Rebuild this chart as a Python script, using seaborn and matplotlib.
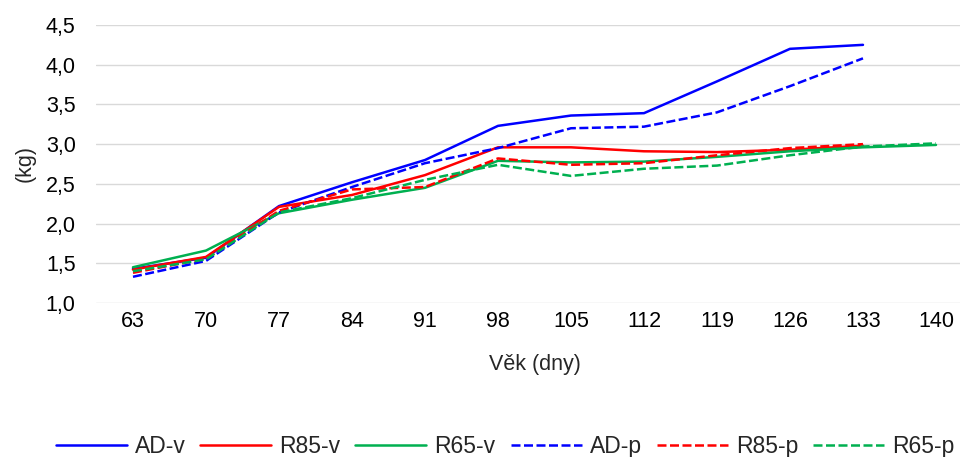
import numpy as np
import pandas as pd
import matplotlib
matplotlib.use("Agg")
import matplotlib.pyplot as plt
import matplotlib.ticker as mticker
import seaborn as sns

# chart data
days = [63, 70, 77, 84, 91, 98, 105, 112, 119, 126, 133, 140]
ad_v = [1.43, 1.57, 2.22, 2.52, 2.80, 3.23, 3.36, 3.39, 3.79, 4.20, 4.25, np.nan]
r85_v = [1.42, 1.58, 2.21, 2.36, 2.61, 2.96, 2.96, 2.91, 2.90, 2.93, 2.98, np.nan]
r65_v = [1.45, 1.66, 2.13, 2.30, 2.45, 2.79, 2.77, 2.78, 2.84, 2.91, 2.96, 2.99]
ad_p = [1.33, 1.53, 2.14, 2.46, 2.76, 2.95, 3.20, 3.22, 3.40, 3.73, 4.08, np.nan]
r85_p = [1.38, 1.56, 2.16, 2.43, 2.46, 2.82, 2.74, 2.76, 2.86, 2.95, 3.00, np.nan]
r65_p = [1.40, 1.55, 2.14, 2.32, 2.55, 2.74, 2.60, 2.69, 2.73, 2.86, 2.97, 3.01]

series_names = ["AD-v", "R85-v", "R65-v", "AD-p", "R85-p", "R65-p"]
series_vals = [ad_v, r85_v, r65_v, ad_p, r85_p, r65_p]
colors = ["#0000FF", "#FF0000", "#00B050", "#0000FF", "#FF0000", "#00B050"]

df = pd.concat(
    [pd.DataFrame({"day": days, "kg": v, "series": n}) for n, v in zip(series_names, series_vals)],
    ignore_index=True,
).dropna()

sns.set_theme(style="white")
plt.rcParams['font.family'] = ['Liberation Sans', 'DejaVu Sans']
FS = 15.5

fig = plt.figure(figsize=(9.6, 4.57), dpi=100)
ax = fig.add_axes([0.1005, 0.337, 0.9125, 0.6083])

dashes = {n: ("" if n.endswith("-v") else (3.6, 1.4)) for n in series_names}
sns.lineplot(data=df, x="day", y="kg", hue="series", style="series",
             hue_order=series_names, style_order=series_names,
             palette=colors, dashes=dashes, linewidth=1.8, ax=ax, legend="full")

ax.set_xlim(59.5, 143.5)
ax.set_ylim(1.0, 4.5)
ax.set_xticks(days)
ax.set_xticklabels([str(d) for d in days])
ax.yaxis.set_major_locator(mticker.MultipleLocator(0.5))
ax.yaxis.set_major_formatter(mticker.FuncFormatter(lambda v, p: f"{v:.1f}".replace(".", ",")))
ax.grid(axis="y", color="#D9D9D9", linewidth=1.0)
ax.set_axisbelow(True)
for s in ax.spines.values():
    s.set_visible(False)
ax.tick_params(axis="both", length=0, labelsize=FS, colors="#000000")
ax.tick_params(axis="y", pad=15)
ax.tick_params(axis="x", pad=6)

ax.set_xlabel("Věk (dny)", fontsize=FS)
ax.xaxis.set_label_coords(0.5, -0.185)
ax.set_ylabel("(kg)", fontsize=FS)
ax.yaxis.set_label_coords(-0.069, 0.5)

handles, labels = ax.get_legend_handles_labels()
ax.get_legend().remove()
fig.legend(handles, labels, loc="center", bbox_to_anchor=(0.526, 0.024), ncol=6,
           frameon=False, fontsize=16.5, handlelength=3.1, handletextpad=0.35,
           columnspacing=0.65, borderpad=0)

fig.savefig("out.png", dpi=100)
